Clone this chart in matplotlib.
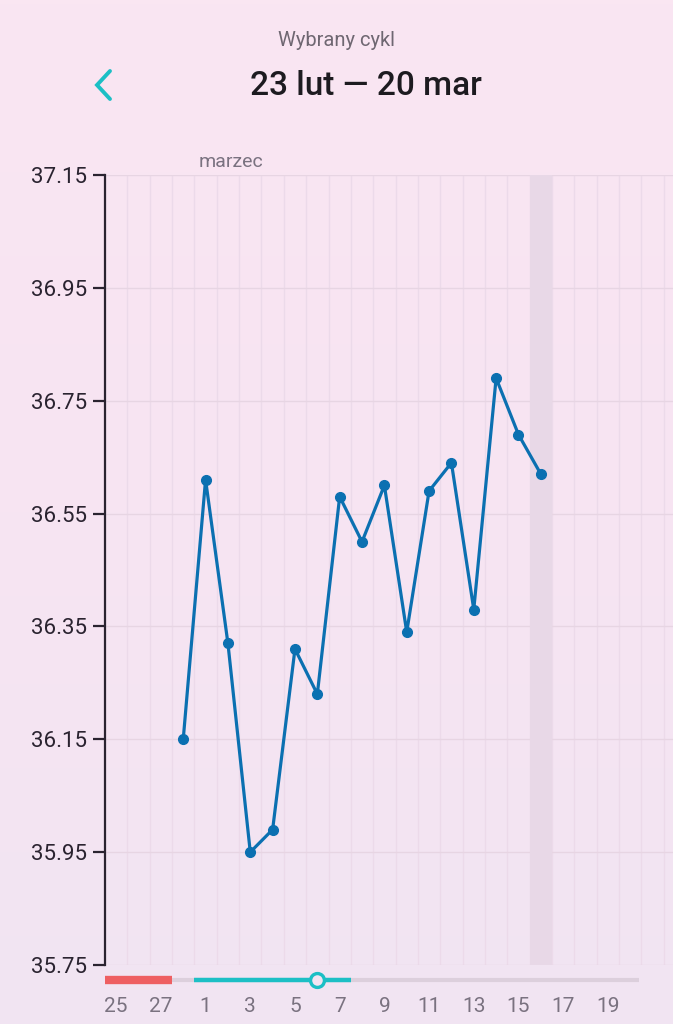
import numpy as np
import matplotlib
matplotlib.use('Agg')
import matplotlib.pyplot as plt
from matplotlib.colors import LinearSegmentedColormap
import matplotlib.transforms as mtransforms

plt.rcParams['font.family'] = ['Roboto', 'DejaVu Sans']

# dni widoczne na osi (indeks 0 = 25 lut)
day_labels = ['25', '26', '27', '28', '1', '2', '3', '4', '5', '6', '7', '8', '9',
              '10', '11', '12', '13', '14', '15', '16', '17', '18', '19', '20', '21']
# pomiary temperatury od 28 lut do 16 mar
temp_start = 3
temps = [36.15, 36.61, 36.32, 35.95, 35.99, 36.31, 36.23, 36.58, 36.50,
         36.60, 36.34, 36.59, 36.64, 36.38, 36.79, 36.69, 36.62]
y_ticks = [35.75, 35.95, 36.15, 36.35, 36.55, 36.75, 36.95, 37.15]
period_days = [0, 1, 2]          # 25-27 lut
fertile_days = [4, 5, 6, 7, 8, 9, 10]  # 1-7 mar
ovulation_day = 9                # 6 mar
selected_day = 19                # 16 mar
last_day = 23.4

W, H = 673, 1024
fig = plt.figure(figsize=(W / 100, H / 100), dpi=100)

# tło z delikatnym gradientem
bg = fig.add_axes([0, 0, 1, 1], zorder=-10)
cmap = LinearSegmentedColormap.from_list('bg', ['#fae6f2', '#f7e4f3', '#f1e4f2'])
bg.imshow(np.linspace(0, 1, 256).reshape(-1, 1), aspect='auto', cmap=cmap,
          extent=[0, 1, 0, 1])
bg.set_axis_off()

left, right = 105 / W, 1.0
bottom, top = (H - 965) / H, (H - 175) / H
ax = fig.add_axes([left, bottom, right - left, top - bottom])
ax.set_facecolor('none')

x = np.arange(len(temps)) + temp_start
ax.set_ylim(35.75, 37.15)
ax.set_xlim(-0.5, -0.5 + (W - 105) / 22.35)

# siatka
for k in range(len(day_labels) + 2):
    ax.axvline(k - 0.5, color='#ecdaea', lw=1, zorder=0)
for yv in y_ticks:
    ax.axhline(yv, color='#e7d5e3', lw=1, zorder=0)

# zaznaczony dzień
ax.axvspan(selected_day - 0.5, selected_day + 0.5, color='#e8d8e7', zorder=0.5, lw=0)

ax.plot(x, temps, color='#0b70b1', lw=2.3, marker='o', markersize=7,
        solid_joinstyle='round', zorder=3)

for s in ['top', 'right', 'bottom']:
    ax.spines[s].set_visible(False)
ax.spines['left'].set_color('#2a2330')
ax.spines['left'].set_linewidth(1.6)

ax.set_yticks(y_ticks)
ax.set_yticklabels([f'{v:.2f}' for v in y_ticks])
ax.tick_params(axis='y', direction='out', length=9, width=1.6, color='#2a2330',
               labelsize=16, labelcolor='#2a2330', pad=4)

tick_idx = list(range(0, 23, 2))
ax.set_xticks(tick_idx)
ax.set_xticklabels([day_labels[i] for i in tick_idx])
ax.tick_params(axis='x', length=0, labelsize=15, labelcolor='#7a7280', pad=23)

# pasek z fazami cyklu pod wykresem
tr = mtransforms.blended_transform_factory(ax.transData, ax.transAxes)
ybar = -15 / 790
ax.plot([-0.5, last_day], [ybar, ybar], color='#dccfdc', lw=3, transform=tr,
        clip_on=False, solid_capstyle='butt')
ax.plot([period_days[0] - 0.5, period_days[-1] + 0.5], [ybar, ybar], color='#ee5f62',
        lw=6, transform=tr, clip_on=False, solid_capstyle='butt')
ax.plot([fertile_days[0] - 0.5, fertile_days[-1] + 0.5], [ybar, ybar], color='#1cbfc5',
        lw=3.2, transform=tr, clip_on=False, solid_capstyle='butt')
ax.plot([ovulation_day], [ybar], marker='o', markersize=10, markerfacecolor='#f3e4f2',
        markeredgecolor='#1cbfc5', markeredgewidth=2.4, transform=tr, clip_on=False)

ax.text(fertile_days[0] - 0.3, 1.005, 'marzec', transform=tr, ha='left', va='bottom',
        fontsize=14, color='#7a7280')

# nagłówek
fig.text(336 / W, 1 - 40 / H, 'Wybrany cykl', ha='center', va='center',
         fontsize=14.5, color='#6f6772')
fig.text(366 / W, 1 - 86 / H, '23 lut \u2014 20 mar', ha='center', va='center',
         fontsize=24, color='#1d1b20', fontweight='medium')
fig.add_artist(plt.Line2D([110 / W, 97 / W, 110 / W],
                          [1 - 71 / H, 1 - 85 / H, 1 - 99 / H],
                          color='#1cbfc5', lw=2.8, solid_capstyle='round',
                          solid_joinstyle='miter'))

fig.savefig('out.png', dpi=100)
